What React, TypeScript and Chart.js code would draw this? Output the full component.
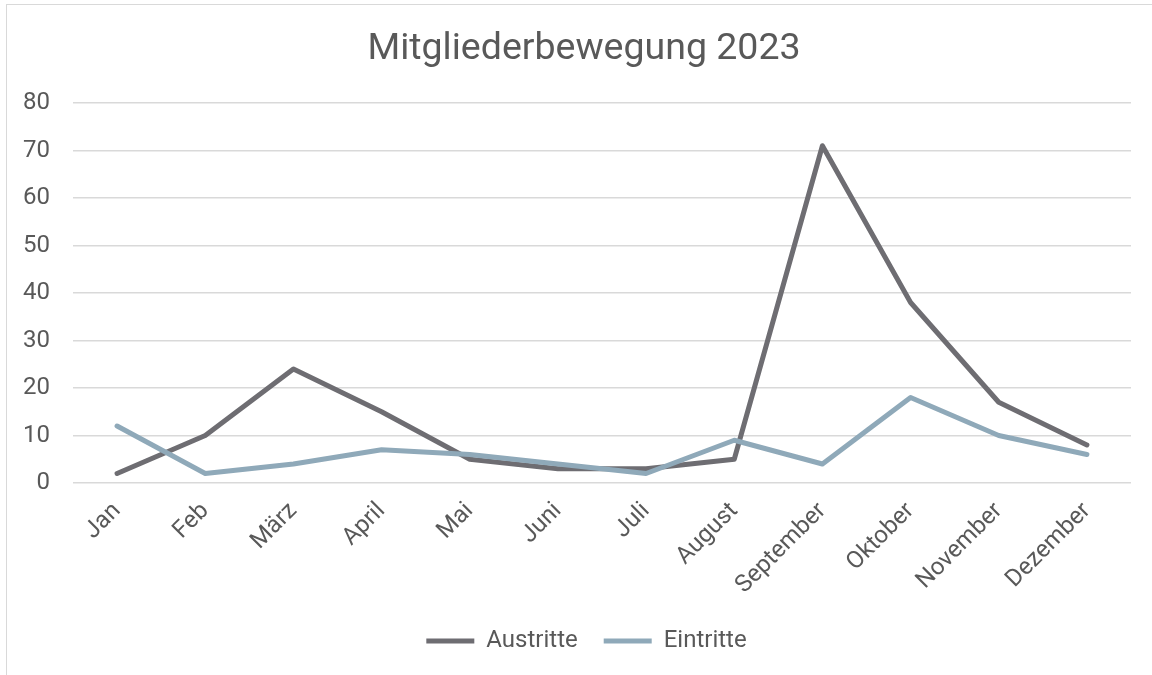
import React, { useEffect, useRef } from "react";
import { Chart, registerables } from "chart.js";

Chart.register(...registerables);

const months = ["Jan", "Feb", "März", "April", "Mai", "Juni", "Juli", "August", "September", "Oktober", "November", "Dezember"];
const austritte = [2, 10, 24, 15, 5, 3, 3, 5, 71, 38, 17, 8];
const eintritte = [12, 2, 4, 7, 6, 4, 2, 9, 4, 18, 10, 6];
const chartTitle = "Mitgliederbewegung 2023";

const TEXT = "#595959";
const FONT = "Roboto, 'Noto Sans', sans-serif";

const boxShift = {
  id: "boxShift",
  afterLayout(chart: any) {
    const lg = chart.legend;
    if (lg) {
      lg.left += 21;
      lg.right += 21;
    }
    const tb = chart.titleBlock;
    if (tb) {
      tb.left += 18.5;
      tb.right += 18.5;
    }
  },
};

export default function App() {
  const ref = useRef<HTMLCanvasElement | null>(null);

  useEffect(() => {
    document.body.style.margin = "0";
    const canvas = ref.current;
    if (!canvas) return;
    const chart = new Chart(canvas, {
      type: "line",
      data: {
        labels: months,
        datasets: [
          {
            label: "Eintritte",
            data: eintritte,
            borderColor: "#8fa9b9",
            backgroundColor: "#8fa9b9",
            borderWidth: 5,
            pointRadius: 0,
            tension: 0,
            borderCapStyle: "round",
            borderJoinStyle: "round",
            pointStyle: "line",
          },
          {
            label: "Austritte",
            data: austritte,
            borderColor: "#6e6d72",
            backgroundColor: "#6e6d72",
            borderWidth: 5,
            pointRadius: 0,
            tension: 0,
            borderCapStyle: "round",
            borderJoinStyle: "round",
            pointStyle: "line",
          },
        ],
      },
      plugins: [boxShift],
      options: {
        responsive: false,
        animation: false,
        layout: { padding: { left: 0, right: 21, top: 0, bottom: 12 } },
        plugins: {
          tooltip: { enabled: false },
          title: {
            display: true,
            text: chartTitle,
            color: TEXT,
            font: { family: FONT, size: 37.5, weight: "normal" },
            padding: { top: 27, bottom: 31 },
          },
          legend: {
            position: "bottom",
            reverse: true,
            labels: {
              usePointStyle: true,
              pointStyleWidth: 48,
              boxHeight: 20,
              color: TEXT,
              font: { family: FONT, size: 24 },
              padding: 26,
            },
          },
        },
        scales: {
          x: {
            offset: true,
            grid: { display: false, offset: true },
            border: { display: false },
            ticks: {
              color: TEXT,
              font: { family: FONT, size: 24 },
              minRotation: 45,
              maxRotation: 45,
              padding: 6,
              autoSkip: false,
            },
            afterFit: (axis: any) => {
              axis.height = 120;
            },
          },
          y: {
            min: 0,
            max: 80,
            grid: { color: "#d9d9d9", lineWidth: 1.5, drawTicks: false },
            border: { display: false },
            ticks: {
              stepSize: 10,
              color: TEXT,
              font: { family: FONT, size: 24 },
              padding: 23,
            },
            afterFit: (axis: any) => {
              axis.width = 73;
            },
          },
        },
      },
    });
    return () => chart.destroy();
  }, []);

  return (
    <div style={{ position: "relative", width: 1152, height: 675, overflow: "hidden", background: "#fff" }}>
      <div
        style={{
          position: "absolute",
          left: 6,
          top: 4,
          width: 1300,
          height: 900,
          border: "1.5px solid #d9d9d9",
        }}
      />
      <canvas ref={ref} width={1152} height={675} style={{ position: "absolute", left: 0, top: 0 }} />
    </div>
  );
}
